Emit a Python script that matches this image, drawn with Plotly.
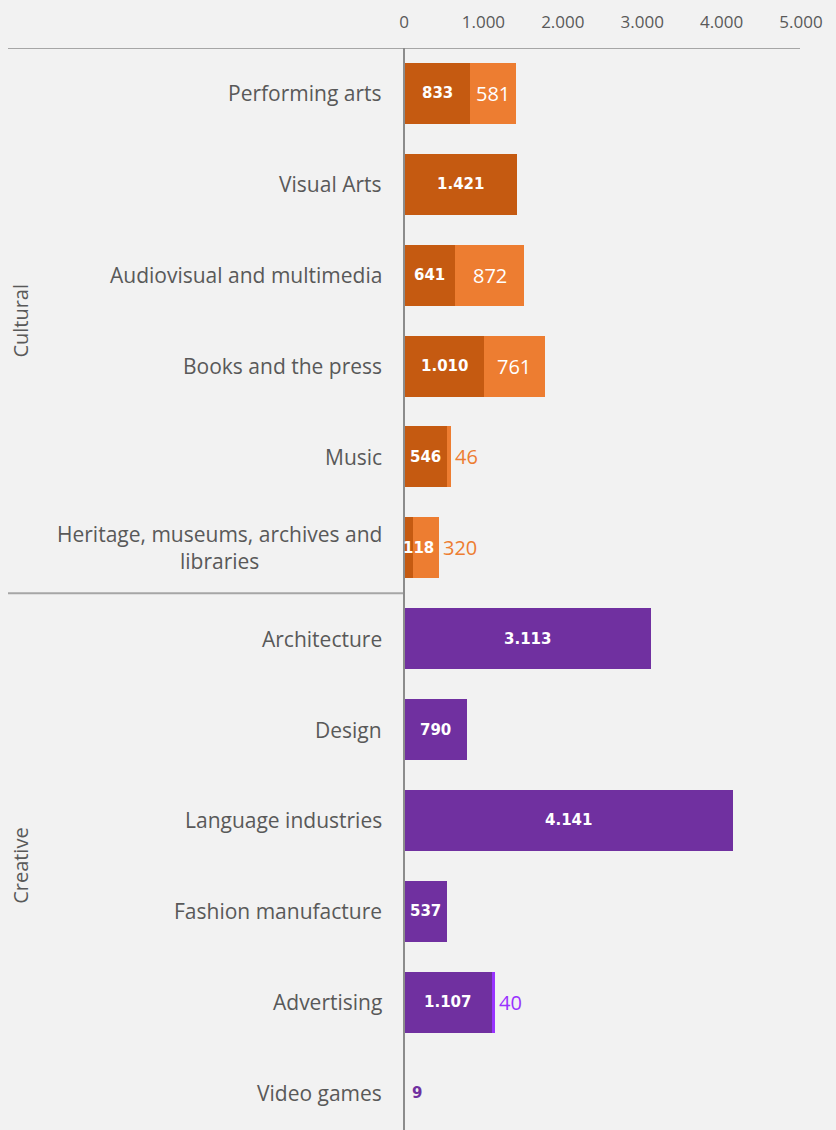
import plotly.graph_objects as go

categories = ["Performing arts", "Visual Arts", "Audiovisual and multimedia",
              "Books and the press", "Music", "Heritage, museums, archives and<br>libraries",
              "Architecture", "Design", "Language industries", "Fashion manufacture",
              "Advertising", "Video games"]
groups = ["Cultural"] * 6 + ["Creative"] * 6
series_a = [833, 1421, 641, 1010, 546, 118, 3113, 790, 4141, 537, 1107, 9]
series_b = [581, 0, 872, 761, 46, 320, 0, 0, 0, 0, 40, 0]
x_ticks = [0, 1000, 2000, 3000, 4000, 5000]
x_ticklabels = ["0", "1.000", "2.000", "3.000", "4.000", "5.000"]

dark = {"Cultural": "#C55A11", "Creative": "#7030A0"}
light = {"Cultural": "#ED7D31", "Creative": "#9933FF"}

FONT = "Open Sans"
GREY = "#595959"

def fmt(v):
    return f"{v:,}".replace(",", ".")

ypos = list(range(len(categories)))

fig = go.Figure()
fig.add_trace(go.Bar(y=ypos, x=series_a, orientation="h",
                     marker=dict(color=[dark[g] for g in groups], line=dict(width=0)),
                     hoverinfo="x"))
fig.add_trace(go.Bar(y=ypos, x=series_b, orientation="h",
                     marker=dict(color=[light[g] for g in groups], line=dict(width=0)),
                     hoverinfo="x"))

ann = []
for i, (a, b, g) in enumerate(zip(series_a, series_b, groups)):
    bold = dict(family="DejaVu Sans", size=15, color="white")
    if a >= 300:
        ann.append(dict(x=a / 2, y=i, text=f"<b>{fmt(a)}</b>", showarrow=False,
                        xanchor="center", font=bold))
    elif b > 0:
        ann.append(dict(x=0, y=i, text=f"<b>{fmt(a)}</b>", showarrow=False,
                        xanchor="left", xshift=-3, font=bold))
    else:
        ann.append(dict(x=a, y=i, text=f"<b>{fmt(a)}</b>", showarrow=False,
                        xanchor="left", xshift=5,
                        font=dict(family="DejaVu Sans", size=15, color=dark[g])))
    if b >= 500:
        ann.append(dict(x=a + b / 2, y=i, text=fmt(b), showarrow=False, xanchor="center",
                        font=dict(family=FONT, size=20, color="white")))
    elif b > 0:
        ann.append(dict(x=a + b, y=i, text=fmt(b), showarrow=False, xanchor="left",
                        xshift=2, font=dict(family=FONT, size=20, color=light[g])))
    # category label
    ann.append(dict(x=0, y=i, text=categories[i], showarrow=False, xanchor="right",
                    align="center", xshift=-20,
                    font=dict(family=FONT, size=21, color=GREY)))

# group labels
for gname in ["Cultural", "Creative"]:
    idx = [i for i, g in enumerate(groups) if g == gname]
    ann.append(dict(xref="paper", x=(21 - 404) / 397, y=(idx[0] + idx[-1]) / 2,
                    text=gname, textangle=-90, showarrow=False, xanchor="center",
                    font=dict(family=FONT, size=20, color=GREY)))

shapes = [
    dict(type="line", xref="paper", yref="y", x0=(5 - 404) / 397, x1=(800 - 404) / 397,
         y0=-0.5, y1=-0.5, line=dict(color="#A6A6A6", width=2)),
    dict(type="line", xref="paper", yref="y", x0=(3 - 404) / 397, x1=0,
         y0=5.5, y1=5.5, line=dict(color="#A6A6A6", width=2)),
    dict(type="line", xref="paper", yref="paper", x0=0, x1=0, y0=0, y1=1,
         line=dict(color="#8C8C8C", width=2)),
]

fig.update_layout(
    barmode="stack",
    bargap=0.33,
    width=828, height=1122,
    margin=dict(l=396, r=35, t=40, b=0),
    paper_bgcolor="#F2F2F2", plot_bgcolor="#F2F2F2",
    showlegend=False,
    annotations=ann,
    shapes=shapes,
    xaxis=dict(side="top", range=[0, 5000], tickvals=x_ticks, ticktext=x_ticklabels,
               showgrid=False, zeroline=False, showline=False, ticks="",
               ticklabelstandoff=16,
               tickfont=dict(family=FONT, size=17, color=GREY)),
    yaxis=dict(range=[11 + (1130 - 1093) / 91, -0.5], showticklabels=False,
               showgrid=False, zeroline=False, showline=False, ticks=""),
)

fig.write_html("out.html", post_script="document.body.style.background='#F2F2F2';")
